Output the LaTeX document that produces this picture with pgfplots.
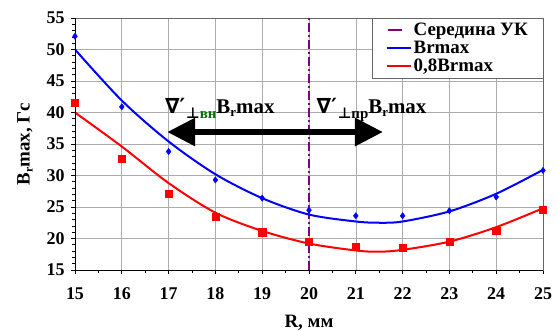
\documentclass[border=0pt]{standalone}
\usepackage{pgfplots}
\pgfplotsset{compat=1.18}
\usepackage{fontspec}
\setmainfont{Liberation Serif}
\newfontfamily\symfont{DejaVu Sans}
\usetikzlibrary{arrows.meta}
\definecolor{vio}{RGB}{128,0,128}
\definecolor{bl}{RGB}{0,0,255}
\definecolor{rd}{RGB}{255,0,0}
\definecolor{gr}{RGB}{0,110,0}
\pgfplotsset{
  shortleg/.style={legend image code/.code={\draw[##1,solid] (1bp,0) -- (15bp,0);}},
  longleg/.style={legend image code/.code={\draw[##1] (0bp,0) -- (24bp,0);}},
}
\newcommand\gradlabel[1]{{\symfont\fontsize{21}{21}\selectfont ∇′}\kern1bp\raisebox{-5bp}{\fontsize{15}{15}\selectfont{\symfont ⊥}#1}B\raisebox{-3bp}{\fontsize{13}{13}\selectfont r}max}
\begin{document}
\begin{tikzpicture}
\begin{axis}[
 scale only axis, width=468bp, height=252bp, at={(0,0)}, anchor=south west,
 xmin=15, xmax=25, ymin=15, ymax=55,
 xtick={15,...,25}, ytick={15,20,...,55},
 minor x tick num=1, minor y tick num=4,
 tick align=outside, tick pos=left,
 major tick length=4bp, minor tick length=3bp,
 grid=major, major grid style={gray!65, line width=0.6bp},
 axis line style={gray!80!black, line width=0.6bp},
 tick style={black, line width=0.8bp},
 /pgf/number format/assume math mode=true,
 ticklabel style={font=\bfseries\fontsize{18}{18}\selectfont},
 xticklabel style={yshift=-10bp},
 yticklabel style={xshift=-3bp},
 xlabel={R, мм}, ylabel={B\raisebox{-3bp}{\fontsize{12}{12}\selectfont r}max, Гс},
 label style={font=\bfseries\fontsize{19}{19}\selectfont},
 xlabel style={at={(axis description cs:0.5,-0.21)}, anchor=center},
 ylabel style={at={(axis description cs:-0.107,0.5)}, anchor=center},
 legend style={at={(rel axis cs:1,1)}, anchor=north east, draw=gray!80!black, fill=white,
   font=\bfseries\fontsize{19}{19}\selectfont, inner xsep=13bp, inner ysep=3bp,
   row sep=0bp, cells={anchor=west}},
 legend cell align=left,
]
\addplot[vio, line width=1.6bp, dash pattern=on 9bp off 3bp on 2bp off 3bp, shortleg]
  coordinates {(20,15) (20,55)};
\addlegendentry{Середина УК}
\addplot[bl, line width=2bp, smooth, no markers, longleg]
  coordinates {(15,50.0) (16,41.9) (17,35.4) (18,30.2) (19,26.4) (20,23.8) (21,22.7) (21.5,22.5) (22,22.7) (23,24.3) (24,27.1) (25,30.9)};
\addlegendentry{Brmax}
\addplot[rd, line width=2bp, smooth, no markers, longleg]
  coordinates {(15,40.0) (16,34.6) (17,28.8) (18,24.1) (19,21.2) (20,19.2) (21,18.1) (21.5,17.9) (22,18.2) (23,19.5) (24,21.8) (25,24.8)};
\addlegendentry{0,8Brmax}
\addplot[bl, only marks, mark=diamond*, mark size=3.2bp, forget plot]
  coordinates {(15,52.1) (16,40.9) (17,33.8) (18,29.3) (19,26.4) (20,24.5) (21,23.6) (22,23.6) (23,24.4) (24,26.6) (25,30.8)};
\addplot[rd, only marks, mark=square*, mark size=3.6bp, forget plot]
  coordinates {(15,41.6) (16,32.7) (17,27.1) (18,23.4) (19,21.0) (20,19.5) (21,18.7) (22,18.6) (23,19.5) (24,21.3) (25,24.6)};
\draw[line width=6bp, {Triangle[length=28bp,width=27bp]}-{Triangle[length=28bp,width=27bp]}]
  (axis cs:16.97,36.9) -- (axis cs:21.58,36.9);
\node[anchor=base west, inner sep=0pt, font=\bfseries\fontsize{21}{21}\selectfont] at (axis cs:16.92,39.9)
  {\gradlabel{\color{gr}вн}};
\node[anchor=base west, inner sep=0pt, font=\bfseries\fontsize{21}{21}\selectfont] at (axis cs:20.16,39.9)
  {\gradlabel{пр}};
\draw[black, line width=0.8bp] (rel axis cs:0,1) -- (rel axis cs:0,0) -- (rel axis cs:1,0);
\end{axis}
\pgfresetboundingbox
\path (-75bp,-61bp) rectangle (483bp,270bp);
\end{tikzpicture}
\end{document}
